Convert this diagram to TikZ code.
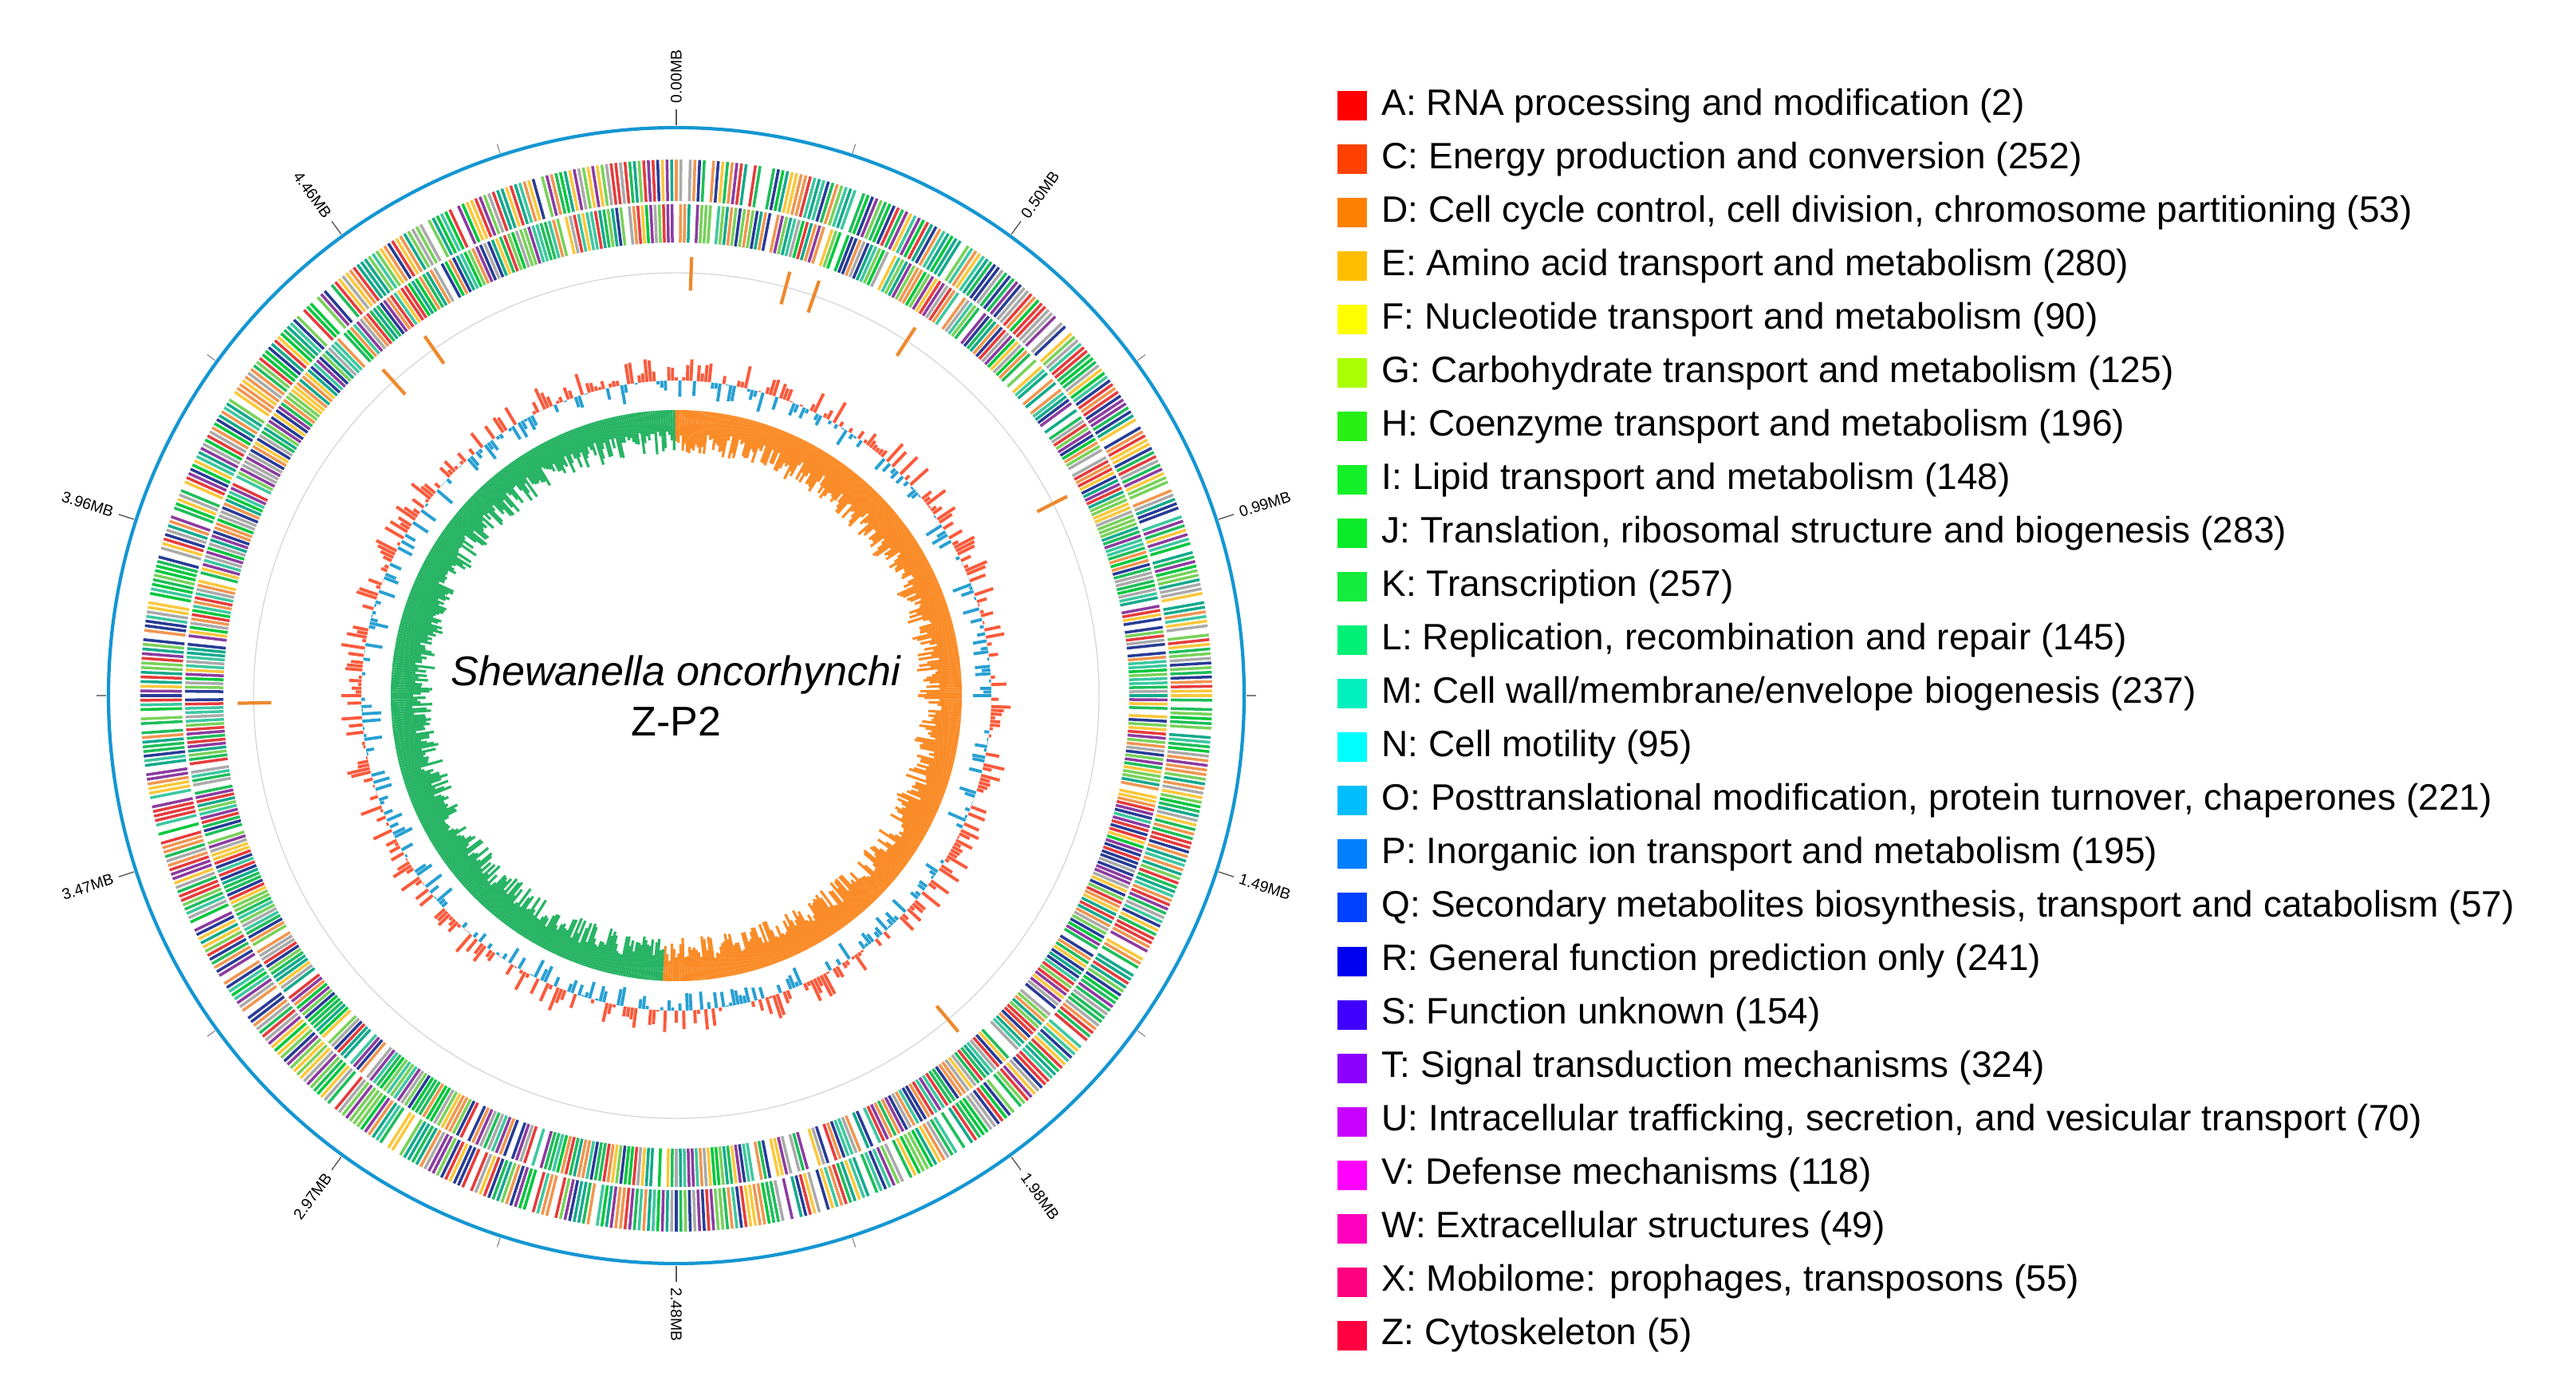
\documentclass[tikz,border=0pt]{standalone}
\usepackage{fontspec}
\setmainfont{Liberation Sans}
\usepackage{tikz}
\usetikzlibrary{positioning}

% legend colours
\definecolor{cA}{RGB}{255,0,0}
\definecolor{cC}{RGB}{255,64,0}
\definecolor{cD}{RGB}{255,128,0}
\definecolor{cE}{RGB}{255,191,0}
\definecolor{cF}{RGB}{255,255,0}
\definecolor{cG}{RGB}{170,255,0}
\definecolor{cH}{RGB}{40,240,20}
\definecolor{cI}{RGB}{20,240,40}
\definecolor{cJ}{RGB}{10,235,40}
\definecolor{cK}{RGB}{20,235,60}
\definecolor{cL}{RGB}{0,240,120}
\definecolor{cM}{RGB}{0,240,190}
\definecolor{cN}{RGB}{0,255,255}
\definecolor{cO}{RGB}{0,190,255}
\definecolor{cP}{RGB}{0,128,255}
\definecolor{cQ}{RGB}{0,64,255}
\definecolor{cR}{RGB}{0,0,240}
\definecolor{cS}{RGB}{64,0,255}
\definecolor{cT}{RGB}{140,0,255}
\definecolor{cU}{RGB}{200,0,255}
\definecolor{cV}{RGB}{255,0,255}
\definecolor{cW}{RGB}{255,0,190}
\definecolor{cX}{RGB}{255,0,128}
\definecolor{cZ}{RGB}{255,0,64}
% ring colours
\definecolor{ringblue}{RGB}{20,150,210}
\definecolor{gcpos}{RGB}{250,90,60}
\definecolor{gcneg}{RGB}{40,160,210}
\definecolor{skewpos}{RGB}{250,140,40}
\definecolor{skewneg}{RGB}{40,180,100}
\definecolor{s0}{RGB}{30,190,90}
\definecolor{s1}{RGB}{20,170,140}
\definecolor{s2}{RGB}{120,210,90}
\definecolor{s3}{RGB}{240,150,80}
\definecolor{s4}{RGB}{230,60,60}
\definecolor{s5}{RGB}{170,170,170}
\definecolor{s6}{RGB}{255,255,255}
\definecolor{s7}{RGB}{40,60,150}
\definecolor{s8}{RGB}{140,60,160}
\definecolor{s9}{RGB}{250,200,60}
\definecolor{s10}{RGB}{0,200,60}
\definecolor{s11}{RGB}{60,200,160}

\begin{document}
\begin{tikzpicture}[
      mb/.style={font=\fontsize{5.5}{6}\selectfont, inner sep=0pt},
      leg/.style={font=\fontsize{13.1}{15}\selectfont, anchor=west, inner sep=0pt},
      box/.style={minimum size=0.37cm, inner sep=0pt, draw=none}]
  \useasboundingbox (0,0) rectangle (32.30,17.34);
  \pgfmathsetseed{7}
  \begin{scope}[shift={(8.48,8.62)}]
    % outer axis
    \draw[ringblue, line width=1.2pt] (0,0) circle (7.12);
    \foreach \k/\t in {0/0.00MB,1/0.50MB,2/0.99MB,3/1.49MB,4/1.98MB,5/2.48MB,6/2.97MB,7/3.47MB,8/3.96MB,9/4.46MB}{
      \pgfmathsetmacro\a{90-36*\k}
      \draw[gray!70!black, line width=0.4pt] (\a:7.15) -- (\a:7.35);
      \draw[gray, line width=0.3pt] (\a-18:7.15) -- (\a-18:7.27);
      \ifnum\k<6
        \node[mb, rotate=\a, anchor=west] (t\k) at (\a:7.42) {\t};
      \else
        \node[mb, rotate=\a+180, anchor=east] (t\k) at (\a:7.42) {\t};
      \fi
    }
    % CDS rings
    \foreach \i in {0,...,719}{
      \pgfmathsetmacro\a{90-\i*0.5}
      \pgfmathrandominteger{\k}{0}{11}
      \draw[s\k, line width=1pt] (\a:6.2) -- (\a:6.72);
      \pgfmathrandominteger{\k}{0}{11}
      \draw[s\k, line width=1pt] (\a:5.68) -- (\a:6.16);
    }
    % RNA ring
    \draw[gray!30, line width=0.4pt] (0,0) circle (5.3);
    \foreach \a in {88,75,71,57,27,-50,181,132,125}{
      \draw[skewpos!80!brown, line width=1.2pt] (\a:5.08) -- (\a:5.5);
    }
    % GC content
    \foreach \i in {0,...,539}{
      \pgfmathsetmacro\a{90-\i*(2/3)}
      \pgfmathsetmacro\r{(rnd-0.45)*0.55}
      \ifdim\r pt>0pt \def\c{gcpos}\else\def\c{gcneg}\fi
      \draw[\c, line width=1.1pt] (\a:3.95) -- (\a:{3.95+\r});
    }
    % GC skew
    \foreach \i in {0,...,719}{
      \pgfmathsetmacro\a{90-\i*0.5}
      \pgfmathsetmacro\l{0.25+rnd*0.3}
      \ifdim\a pt>-93pt \def\c{skewpos}\else\def\c{skewneg}\fi
      \draw[\c, line width=0.9pt] (\a:3.58) -- (\a:{3.58-\l});
    }
    \node[font=\fontsize{14.8}{18}\selectfont, align=center] (name) at (0,0)
      {\textit{Shewanella oncorhynchi}\\Z-P2};
  \end{scope}
  % legend
  \foreach \c/\t [count=\n from 0] in {
      A/{A: RNA processing and modification (2)},
      C/{C: Energy production and conversion (252)},
      D/{D: Cell cycle control, cell division, chromosome partitioning (53)},
      E/{E: Amino acid transport and metabolism (280)},
      F/{F: Nucleotide transport and metabolism (90)},
      G/{G: Carbohydrate transport and metabolism (125)},
      H/{H: Coenzyme transport and metabolism (196)},
      I/{I: Lipid transport and metabolism (148)},
      J/{J: Translation, ribosomal structure and biogenesis (283)},
      K/{K: Transcription (257)},
      L/{L: Replication, recombination and repair (145)},
      M/{M: Cell wall/membrane/envelope biogenesis (237)},
      N/{N: Cell motility (95)},
      O/{O: Posttranslational modification, protein turnover, chaperones (221)},
      P/{P: Inorganic ion transport and metabolism (195)},
      Q/{Q: Secondary metabolites biosynthesis, transport and catabolism (57)},
      R/{R: General function prediction only (241)},
      S/{S: Function unknown (154)},
      T/{T: Signal transduction mechanisms (324)},
      U/{U: Intracellular trafficking, secretion, and vesicular transport (70)},
      V/{V: Defense mechanisms (118)},
      W/{W: Extracellular structures (49)},
      X/{X: Mobilome: prophages, transposons (55)},
      Z/{Z: Cytoskeleton (5)}}{
    \node[box, fill=c\c] (b\c) at (16.95,16.01-0.670*\n) {};
    \node[leg] (l\c) at (17.32,16.01-0.670*\n) {\t};
  }
\end{tikzpicture}
\end{document}
